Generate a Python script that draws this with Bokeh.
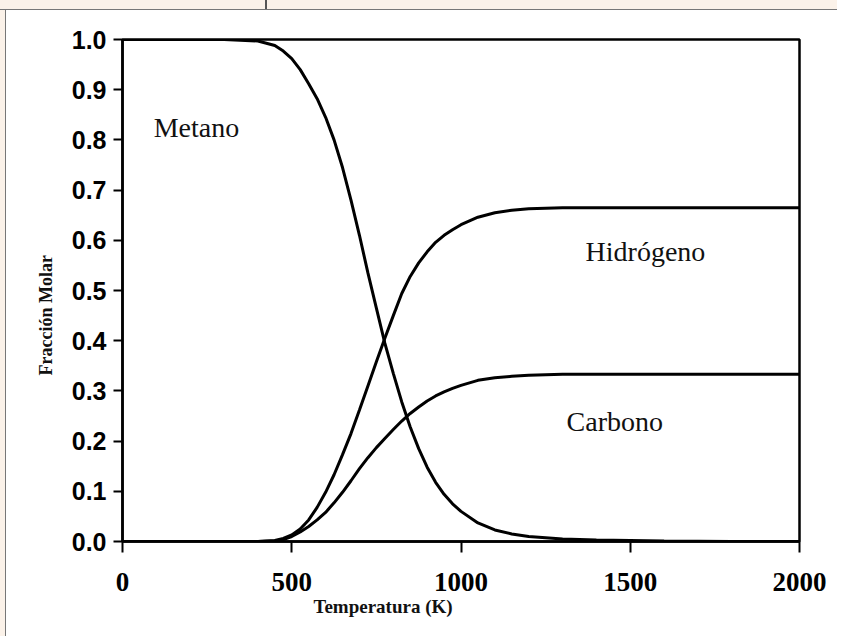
from bokeh.plotting import figure
from bokeh.models import Label, PrintfTickFormatter, FixedTicker, Title
from bokeh.embed import file_html
from bokeh.resources import INLINE

# --- data ---
temp = [0, 100, 200, 300, 400, 450, 475, 500, 525, 550, 575, 600, 625, 650, 675,
        700, 725, 750, 775, 800, 825, 850, 875, 900, 925, 950, 975, 1000, 1050,
        1100, 1150, 1200, 1300, 1400, 1500, 1600, 1800, 2000]
metano = [1.0, 1.0, 1.0, 1.0, 0.997, 0.988, 0.977, 0.962, 0.94, 0.912, 0.882,
          0.845, 0.80, 0.745, 0.68, 0.61, 0.535, 0.465, 0.395, 0.335, 0.278,
          0.228, 0.185, 0.148, 0.118, 0.094, 0.075, 0.06, 0.037, 0.023, 0.015,
          0.010, 0.005, 0.003, 0.002, 0.001, 0.0, 0.0]
hidrogeno = [0.0, 0.0, 0.0, 0.0, 0.0, 0.002, 0.006, 0.013, 0.025, 0.043, 0.068,
             0.098, 0.133, 0.173, 0.215, 0.262, 0.31, 0.358, 0.405, 0.45, 0.494,
             0.528, 0.555, 0.577, 0.596, 0.61, 0.621, 0.631, 0.646, 0.655, 0.66,
             0.663, 0.665, 0.665, 0.665, 0.665, 0.665, 0.665]
carbono = [0.0, 0.0, 0.0, 0.0, 0.0, 0.001, 0.004, 0.01, 0.019, 0.03, 0.043,
           0.058, 0.077, 0.098, 0.121, 0.145, 0.167, 0.187, 0.205, 0.223, 0.24,
           0.255, 0.268, 0.28, 0.29, 0.298, 0.305, 0.311, 0.321, 0.326, 0.329,
           0.331, 0.333, 0.333, 0.333, 0.333, 0.333, 0.333]

x_ticks = [0, 500, 1000, 1500, 2000]
y_ticks = [0.0, 0.1, 0.2, 0.3, 0.4, 0.5, 0.6, 0.7, 0.8, 0.9, 1.0]

series_labels = [("Metano", 92, 0.825), ("Hidrógeno", 1368, 0.578), ("Carbono", 1312, 0.239)]
x_title = "Temperatura (K)"
y_title = "Fracción Molar"

FONT = "Liberation Serif"
CREAM = "#fbf2e9"

page_bg = (
    "linear-gradient(to right, transparent 265px, #555 265px, #555 267px, transparent 267px) 0 0 / 100% 9px no-repeat, "
    f"linear-gradient(to bottom, {CREAM} 9px, #777 9px, #777 10px, transparent 10px), "
    f"linear-gradient(to right, {CREAM} 5px, #777 5px, #777 6px, transparent 6px), "
    "#ffffff"
)

p = figure(width=837, height=636, x_range=(0, 2000), y_range=(0, 1),
           min_border_left=122, min_border_right=38, min_border_top=39,
           min_border_bottom=95, output_backend="svg", toolbar_location=None,
           styles={"background": page_bg})
p.background_fill_color = "white"
p.border_fill_color = None
p.grid.visible = False
p.outline_line_color = "black"
p.outline_line_width = 2.5

for ax in (p.xaxis, p.yaxis):
    ax.axis_line_color = "black"
    ax.axis_line_width = 2.5
    ax.major_tick_line_color = "black"
    ax.major_tick_line_width = 2
    ax.major_tick_in = 0
    ax.minor_tick_line_color = None
    ax.major_label_text_font_style = "bold"
    ax.major_label_text_color = "black"

p.xaxis.ticker = FixedTicker(ticks=x_ticks)
p.yaxis.ticker = FixedTicker(ticks=y_ticks)
p.yaxis.formatter = PrintfTickFormatter(format="%.1f")
p.xaxis.major_tick_out = 11
p.yaxis.major_tick_out = 9
p.xaxis.major_label_text_font = FONT
p.yaxis.major_label_text_font = "Liberation Sans"
p.xaxis.major_label_text_font_size = "27px"
p.yaxis.major_label_text_font_size = "25px"
p.xaxis.major_label_standoff = 20
p.yaxis.major_label_standoff = 7

for ys in (metano, hidrogeno, carbono):
    p.line(temp, ys, line_color="black", line_width=3)

for txt, tx, ty in series_labels:
    p.add_layout(Label(x=tx, y=ty, text=txt, text_font=FONT, text_font_size="28px",
                       text_color="#111111", text_align="left", text_baseline="alphabetic"))

p.add_layout(Title(text=x_title, text_font=FONT, text_font_size="19px", text_color="#111111",
                   text_font_style="bold", align="left", offset=191, standoff=0), "below")
p.add_layout(Title(text=y_title, text_font=FONT, text_font_size="18px", text_color="#111111",
                   text_font_style="bold", align="left", offset=166, standoff=25), "left")

open("out.html", "w").write(file_html(p, INLINE))
